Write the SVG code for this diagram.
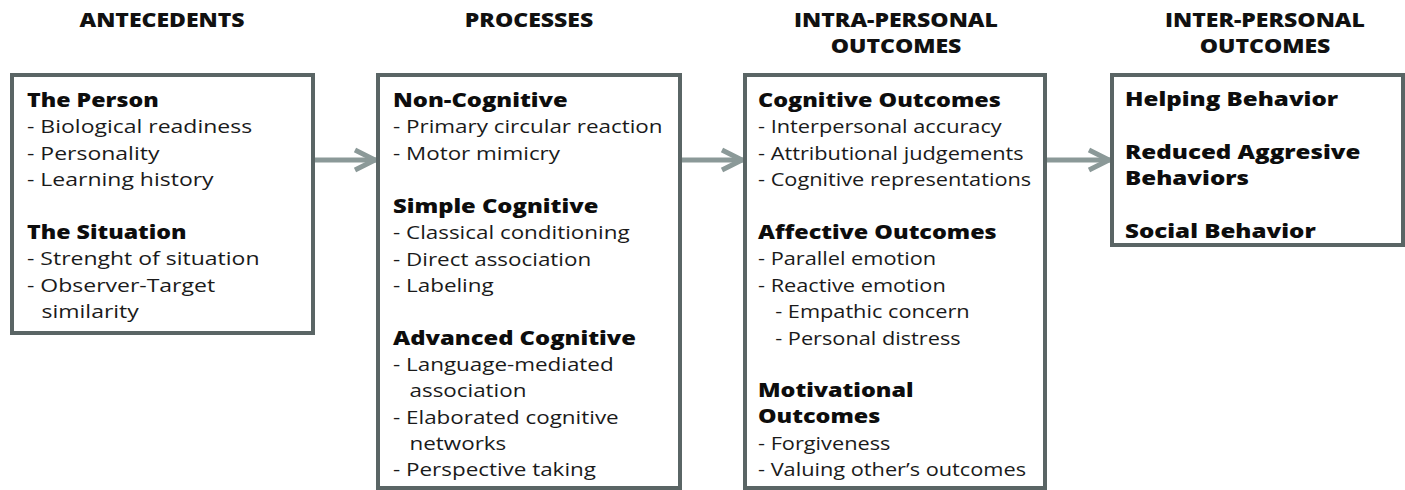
<svg xmlns="http://www.w3.org/2000/svg" width="1405" height="490" viewBox="0 0 1405 490">
<style>
.box{fill:#ffffff;stroke:#5a6565;stroke-width:4}
.hd{font-family:"Open Sans","Noto Sans",sans-serif;font-weight:800;font-size:19.5px;fill:#111111;text-anchor:middle}
.t{font-family:"Open Sans","Noto Sans",sans-serif;font-size:19px;fill:#1a1a1a}
.b{font-family:"Open Sans","Noto Sans",sans-serif;font-size:19px;font-weight:800;fill:#0d0d0d}
.arr{stroke:#8b9998;stroke-width:5;fill:none}
</style>
<defs>
<marker id="chev" markerUnits="userSpaceOnUse" viewBox="0 0 26 26" markerWidth="26" markerHeight="26" refX="23" refY="13" orient="auto">
<path d="M2,3 L22,13 L2,23" fill="none" stroke="#8b9998" stroke-width="5"/>
</marker>
</defs>
<rect width="1405" height="490" fill="#ffffff"/>

<g id="headers">
<g transform="translate(162,0) scale(1.18,1)"><text class="hd" x="0" y="27">ANTECEDENTS</text></g>
<g transform="translate(529,0) scale(1.18,1)"><text class="hd" x="0" y="27">PROCESSES</text></g>
<g transform="translate(896,0) scale(1.18,1)"><text class="hd" x="0" y="27">INTRA-PERSONAL</text><text class="hd" x="0" y="53">OUTCOMES</text></g>
<g transform="translate(1265,0) scale(1.18,1)"><text class="hd" x="0" y="27">INTER-PERSONAL</text><text class="hd" x="0" y="53">OUTCOMES</text></g>
</g>

<g id="connectors">
<line class="arr" x1="313" y1="160" x2="376" y2="160" marker-end="url(#chev)"/>
<line class="arr" x1="680" y1="160" x2="743" y2="160" marker-end="url(#chev)"/>
<line class="arr" x1="1045" y1="160" x2="1110" y2="160" marker-end="url(#chev)"/>
</g>

<g id="antecedents">
<rect class="box" x="12" y="75" width="301" height="258"/>
<g transform="translate(27,0) scale(1.22,1)">
<text class="b" x="0" y="107">The Person</text>
<text class="b" x="0" y="239">The Situation</text>
</g>
<g transform="translate(27,0) scale(1.21,1)">
<text class="t" x="0" y="133">- Biological readiness</text>
<text class="t" x="0" y="160">- Personality</text>
<text class="t" x="0" y="186">- Learning history</text>
<text class="t" x="0" y="265">- Strenght of situation</text>
<text class="t" x="0" y="292">- Observer-Target</text>
<text class="t" x="12" y="318">similarity</text>
</g>
</g>

<g id="processes">
<rect class="box" x="378" y="75" width="302" height="413"/>
<g transform="translate(393,0) scale(1.25,1)">
<text class="b" x="0" y="107">Non-Cognitive</text>
<text class="b" x="0" y="213">Simple Cognitive</text>
<text class="b" x="0" y="345">Advanced Cognitive</text>
</g>
<g transform="translate(393,0) scale(1.18,1)">
<text class="t" x="0" y="133">- Primary circular reaction</text>
<text class="t" x="0" y="160">- Motor mimicry</text>
<text class="t" x="0" y="239">- Classical conditioning</text>
<text class="t" x="0" y="266">- Direct association</text>
<text class="t" x="0" y="292">- Labeling</text>
<text class="t" x="0" y="371">- Language-mediated</text>
<text class="t" x="14" y="397">association</text>
<text class="t" x="0" y="424">- Elaborated cognitive</text>
<text class="t" x="14" y="450">networks</text>
<text class="t" x="0" y="476">- Perspective taking</text>
</g>
</g>

<g id="intra-personal">
<rect class="box" x="745" y="75" width="300" height="413"/>
<g transform="translate(758,0) scale(1.23,1)">
<text class="b" x="0" y="107">Cognitive Outcomes</text>
<text class="b" x="0" y="239">Affective Outcomes</text>
<text class="b" x="0" y="397">Motivational</text>
<text class="b" x="0" y="423">Outcomes</text>
</g>
<g transform="translate(758,0) scale(1.145,1)">
<text class="t" x="0" y="133">- Interpersonal accuracy</text>
<text class="t" x="0" y="160">- Attributional judgements</text>
<text class="t" x="0" y="186">- Cognitive representations</text>
<text class="t" x="0" y="265">- Parallel emotion</text>
<text class="t" x="0" y="292">- Reactive emotion</text>
<text class="t" x="15" y="318">- Empathic concern</text>
<text class="t" x="15" y="345">- Personal distress</text>
<text class="t" x="0" y="450">- Forgiveness</text>
<text class="t" x="0" y="476">- Valuing other’s outcomes</text>
</g>
</g>

<g id="inter-personal">
<rect class="box" x="1112" y="75" width="291" height="170"/>
<g transform="translate(1125,0) scale(1.27,1)">
<text class="b" x="0" y="106">Helping Behavior</text>
<text class="b" x="0" y="159">Reduced Aggresive</text>
<text class="b" x="0" y="185">Behaviors</text>
<text class="b" x="0" y="238">Social Behavior</text>
</g>
</g>
</svg>
